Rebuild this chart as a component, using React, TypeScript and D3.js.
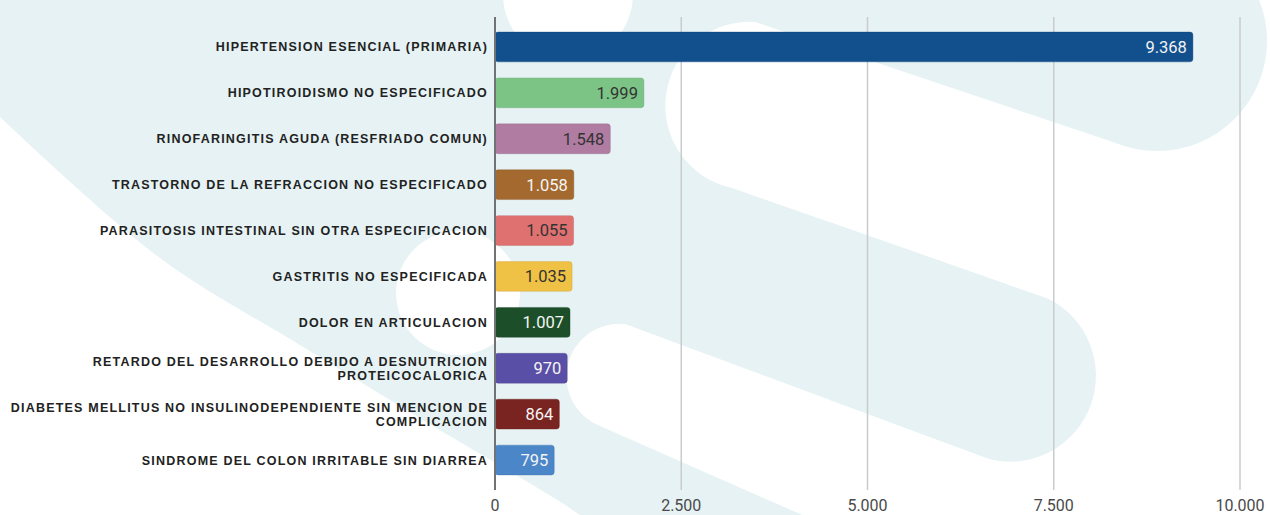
import React from "react";
import * as d3 from "d3";

const categories = [
  "HIPERTENSION ESENCIAL (PRIMARIA)",
  "HIPOTIROIDISMO NO ESPECIFICADO",
  "RINOFARINGITIS AGUDA (RESFRIADO COMUN)",
  "TRASTORNO DE LA REFRACCION NO ESPECIFICADO",
  "PARASITOSIS INTESTINAL SIN OTRA ESPECIFICACION",
  "GASTRITIS NO ESPECIFICADA",
  "DOLOR EN ARTICULACION",
  "RETARDO DEL DESARROLLO DEBIDO A DESNUTRICION\nPROTEICOCALORICA",
  "DIABETES MELLITUS NO INSULINODEPENDIENTE SIN MENCION DE\nCOMPLICACION",
  "SINDROME DEL COLON IRRITABLE SIN DIARREA",
];
const values = [9368, 1999, 1548, 1058, 1055, 1035, 1007, 970, 864, 795];
const barColors = [
  "#11508d", "#7cc386", "#b07ca2", "#a3692e", "#e07171",
  "#efc145", "#1c4f29", "#5a4fa6", "#7a2421", "#4a86c8",
];
const labelColors = [
  "#f2f2f2", "#333333", "#333333", "#f5f5f5", "#333333",
  "#333333", "#f5f5f5", "#f5f5f5", "#f5f5f5", "#f5f5f5",
];
const tickValues = [0, 2500, 5000, 7500, 10000];

const W = 1270;
const H = 515;
const TEAL = "#e6f2f4";

const locale = d3.formatLocale({ decimal: ",", thousands: ".", grouping: [3], currency: ["", ""] });
const fmt = locale.format(",d");

export default function App() {
  const x = d3.scaleLinear().domain([0, 10000]).range([495, 1240]);
  const y = d3
    .scaleBand<string>()
    .domain(categories)
    .range([24, 483])
    .paddingInner(0.35)
    .paddingOuter(0.175);

  // background watermark shapes
  const lowerLeft =
    (d3.line().curve(d3.curveCatmullRom)([
      [0, 117],
      [160, 258],
      [300, 345],
      [423, 420],
      [580, 515],
      [610, 540],
    ]) as string) + "L610,560L0,560Z";
  const band1 = "M755,22L1400,238L1400,422L732,188A84,84 0 0,1 755,22Z";
  const band2 = "M625,324L1400,611L1400,778L600,426A53,53 0 0,1 625,324Z";
  const rightRegion = "M1252,-243L1700,-243L1700,800L900,700L985,470L1000,290L1114,170Z";
  const strokeB = "M830,222.3L1048.3,298.8A86,86 0 0,1 991.7,459.8L830,400Z";

  return (
    <svg
      width={W}
      height={H}
      style={{ position: "absolute", left: 0, top: 0, background: "#fff" }}
      fontFamily="'Liberation Sans', Arial, sans-serif"
    >
      <g>
        <rect x={0} y={0} width={W} height={H} fill={TEAL} />
        <path d={lowerLeft} fill="#fff" />
        <circle cx={568} cy={-5} r={65} fill="#fff" />
        <circle cx={458} cy={293} r={62} fill="#fff" />
        <path d={band2} fill="#fff" />
        <path d={band1} fill="#fff" />
        <path d={rightRegion} fill="#fff" />
        <circle cx={1157} cy={41} r={110} fill={TEAL} />
        <path d={strokeB} fill={TEAL} />
      </g>

      {/* gridlines */}
      {tickValues.slice(1).map((t) => (
        <line key={t} x1={x(t)} x2={x(t)} y1={17} y2={490} stroke="#c8cccd" strokeWidth={1.5} />
      ))}

      {/* bars */}
      {categories.map((c, i) => {
        const yy = y(c)!;
        const bw = x(values[i]) - x(0);
        return (
          <g key={c}>
            <rect
              x={x(0)}
              y={yy}
              width={bw}
              height={y.bandwidth()}
              rx={3}
              fill={barColors[i]}
              stroke={d3.color(barColors[i])!.darker(0.5).formatHex()}
              strokeOpacity={0.35}
              strokeWidth={1}
            />
            <text
              x={x(values[i]) - 6}
              y={yy + y.bandwidth() / 2}
              dy="0.36em"
              textAnchor="end"
              fontSize={16.5}
              fontFamily="Roboto, 'Open Sans', sans-serif"
              fill={labelColors[i]}
            >
              {fmt(values[i])}
            </text>
          </g>
        );
      })}

      {/* axis line */}
      <line x1={x(0)} x2={x(0)} y1={17} y2={490} stroke="#6f7374" strokeWidth={2} />

      {/* category labels */}
      {categories.map((c) => {
        const lines = c.split("\n");
        const cy = y(c)! + y.bandwidth() / 2;
        const lh = 14;
        const start = cy - ((lines.length - 1) * lh) / 2;
        return (
          <text
            key={c}
            x={488}
            textAnchor="end"
            fontSize={12.5}
            fontWeight="bold"
            fill="#222"
            letterSpacing={1.2}
          >
            {lines.map((l, j) => (
              <tspan key={j} x={488} y={start + j * lh} dy="0.36em">
                {l}
              </tspan>
            ))}
          </text>
        );
      })}

      {/* tick labels */}
      {tickValues.map((t) => (
        <text
          key={t}
          x={x(t)}
          y={505.5}
          dy="0.36em"
          textAnchor="middle"
          fontSize={16}
          fill="#4a4a4a"
          fontFamily="Roboto, 'Open Sans', sans-serif"
        >
          {fmt(t)}
        </text>
      ))}
    </svg>
  );
}
